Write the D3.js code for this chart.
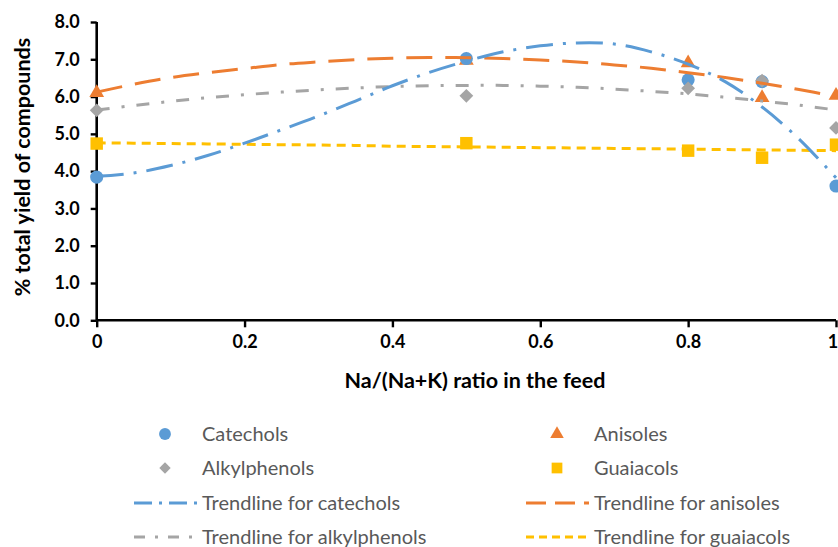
<!DOCTYPE html>
<html><head><meta charset="utf-8">
<script src="https://cdn.jsdelivr.net/npm/d3@7"></script>
<style>
body{margin:0;background:#fff;}
svg{display:block;}
</style></head>
<body>
<svg id="c" width="838" height="547"></svg>
<script>
// ---- data ----
const ratios = [0, 0.5, 0.8, 0.9, 1];
const catechols = [3.84, 7.02, 6.45, 6.40, 3.60];
const anisoles = [6.10, 6.97, 6.90, 5.97, 6.03];
const alkylphenols = [5.63, 6.02, 6.22, 6.43, 5.16];
const guaiacols = [4.74, 4.75, 4.55, 4.36, 4.71];

// trendline values
const trendX = [0, 0.05, 0.1, 0.15, 0.2, 0.25, 0.3, 0.35, 0.4, 0.45, 0.5, 0.55, 0.6, 0.65, 0.7, 0.75, 0.8, 0.85, 0.9, 0.95, 1];
const trendCatechols = [3.86, 3.95, 4.15, 4.42, 4.75, 5.11, 5.48, 5.88, 6.29, 6.65, 6.95, 7.2, 7.36, 7.44, 7.41, 7.2, 6.87, 6.4, 5.72, 4.86, 3.82];
const trendAnisoles = [6.12, 6.33, 6.51, 6.64, 6.75, 6.86, 6.93, 6.99, 7.03, 7.05, 7.04, 7.02, 6.98, 6.93, 6.85, 6.76, 6.64, 6.51, 6.36, 6.19, 6.0];
const trendAlkylphenols = [5.64, 5.76, 5.87, 5.97, 6.05, 6.12, 6.18, 6.23, 6.27, 6.29, 6.30, 6.30, 6.28, 6.25, 6.2, 6.14, 6.07, 5.98, 5.88, 5.77, 5.64];
const trendGuaiacols = [4.76, 4.75, 4.74, 4.73, 4.72, 4.71, 4.70, 4.69, 4.67, 4.66, 4.65, 4.64, 4.63, 4.62, 4.61, 4.60, 4.59, 4.58, 4.57, 4.56, 4.55];

const xTickValues = [0, 0.2, 0.4, 0.6, 0.8, 1];
const xTickLabels = ["0", "0.2", "0.4", "0.6", "0.8", "1"];
const yTickValues = [0, 1, 2, 3, 4, 5, 6, 7, 8];
const yTickLabels = ["0.0", "1.0", "2.0", "3.0", "4.0", "5.0", "6.0", "7.0", "8.0"];

const xTitle = "Na/(Na+K) ratio in the feed";
const yTitle = "% total yield of compounds";
const legendNames = ["Catechols", "Anisoles", "Alkylphenols", "Guaiacols",
  "Trendline for catechols", "Trendline for anisoles", "Trendline for alkylphenols", "Trendline for guaiacols"];

// ---- styles ----
const C = {blue: "#5B9BD5", orange: "#ED7D31", gray: "#A5A5A5", yellow: "#FFC000"};
const dash = {
  cat: "27,10,3,10",
  ani: "26,13",
  alk: "13,12,3,12",
  gua: "9,6"
};
const font = "Lato, 'Open Sans', sans-serif";

const svg = d3.select("#c");
const x = d3.scaleLinear().domain([0, 1]).range([96.7, 836]);
const y = d3.scaleLinear().domain([0, 8]).range([320.3, 22]);

// axes
const gx = svg.append("g").attr("transform", `translate(0,${y(0)})`)
  .call(d3.axisBottom(x).tickValues(xTickValues).tickFormat((d, i) => xTickLabels[i]).tickSize(7).tickPadding(8));
const gy = svg.append("g").attr("transform", `translate(${x(0)},0)`)
  .call(d3.axisLeft(y).tickValues(yTickValues).tickFormat((d, i) => yTickLabels[i]).tickSize(6).tickPadding(11));
[gx, gy].forEach(g => {
  g.select(".domain").attr("stroke", "#000").attr("stroke-width", 2.6);
  g.selectAll(".tick line").attr("stroke", "#000").attr("stroke-width", 2.4);
  g.selectAll(".tick text").attr("fill", "#000").style("font-family", font)
    .style("font-weight", "bold").style("font-size", "18px");
});
gx.select(".domain").attr("d", `M${x(0)},0H${x(1)}`);
gy.select(".domain").attr("d", `M0,${y(0)}V${y(8)}`);
// keep the last x label inside the picture
gx.selectAll(".tick text").filter((d, i) => i === xTickValues.length - 1).attr("text-anchor", "end").attr("dx", "0.1em");

svg.append("text").attr("x", 475).attr("y", 388).attr("text-anchor", "middle")
  .style("font-family", font).style("font-weight", "bold").style("font-size", "21.5px").text(xTitle);
svg.append("text").attr("transform", "translate(30,167) rotate(-90)").attr("text-anchor", "middle")
  .style("font-family", font).style("font-weight", "bold").style("font-size", "21.5px").text(yTitle);

// markers
const plot = svg.append("g");
function pts(vals) { return ratios.map((r, i) => [x(r), y(vals[i])]); }
const sym = {
  circle: d3.symbol().type(d3.symbolCircle).size(135),
  triangle: d3.symbol().type(d3.symbolTriangle).size(95),
  diamond: d3.symbol().type(d3.symbolSquare).size(95),
  square: d3.symbol().type(d3.symbolSquare).size(155)
};
function drawMarkers(vals, type, color) {
  plot.append("g").selectAll("path").data(pts(vals)).join("path")
    .attr("d", sym[type]())
    .attr("transform", d => `translate(${d[0]},${d[1]})` + (type === "diamond" ? " rotate(45)" : ""))
    .attr("fill", color);
}
drawMarkers(anisoles, "triangle", C.orange);
drawMarkers(catechols, "circle", C.blue);
drawMarkers(alkylphenols, "diamond", C.gray);
drawMarkers(guaiacols, "square", C.yellow);

// trendlines
const line = d3.line().x(d => x(d[0])).y(d => y(d[1])).curve(d3.curveCatmullRom);
function drawTrend(vals, color, da) {
  plot.append("path").datum(trendX.map((t, i) => [t, vals[i]]))
    .attr("d", line).attr("fill", "none").attr("stroke", color)
    .attr("stroke-width", 3).attr("stroke-dasharray", da);
}
drawTrend(trendGuaiacols, C.yellow, dash.gua);
drawTrend(trendAlkylphenols, C.gray, dash.alk);
drawTrend(trendAnisoles, C.orange, dash.ani);
drawTrend(trendCatechols, C.blue, dash.cat);

// legend
const leg = svg.append("g");
const colX = [165, 557];
const rowY = [434, 468, 503, 537];
const items = [
  {t: "marker", type: "circle", c: C.blue},
  {t: "marker", type: "triangle", c: C.orange},
  {t: "marker", type: "diamond", c: C.gray},
  {t: "marker", type: "square", c: C.yellow},
  {t: "line", c: C.blue, d: "18,7,3,7"},
  {t: "line", c: C.orange, d: "20,9"},
  {t: "line", c: C.gray, d: "11,10,3,10"},
  {t: "line", c: C.yellow, d: "8,5"}
];
const legSym = {
  circle: d3.symbol().type(d3.symbolCircle).size(110),
  triangle: d3.symbol().type(d3.symbolTriangle).size(80),
  diamond: d3.symbol().type(d3.symbolSquare).size(65),
  square: d3.symbol().type(d3.symbolSquare).size(115)
};
items.forEach((it, i) => {
  const col = i % 2, row = Math.floor(i / 2);
  const cx = colX[col], cy = rowY[row];
  if (it.t === "marker") {
    leg.append("path").attr("d", legSym[it.type]())
      .attr("transform", `translate(${cx},${cy})` + (it.type === "diamond" ? " rotate(45)" : ""))
      .attr("fill", it.c);
  } else {
    leg.append("line").attr("x1", cx - 31).attr("x2", cx + 32).attr("y1", cy).attr("y2", cy)
      .attr("stroke", it.c).attr("stroke-width", 3).attr("stroke-dasharray", it.d);
  }
  leg.append("text").attr("x", cx + 37).attr("y", cy + 7)
    .style("font-family", font).style("font-size", "20px").attr("fill", "#595959")
    .text(legendNames[i]);
});
</script>
</body></html>
